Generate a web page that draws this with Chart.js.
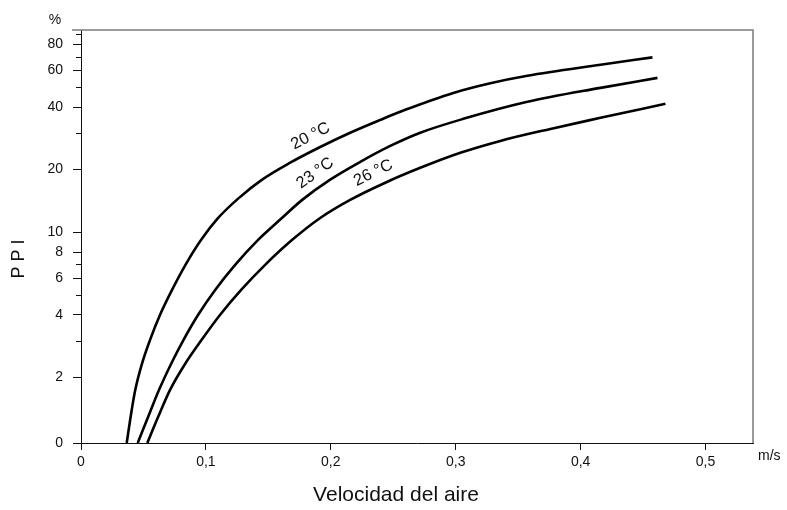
<!DOCTYPE html>
<html>
<head>
<meta charset="utf-8">
<script src="https://cdn.jsdelivr.net/npm/chart.js@4.4.1/dist/chart.umd.min.js"></script>
<style>
  html, body { margin: 0; padding: 0; background: #fff; }
  #grafico { display: block; }
</style>
</head>
<body>
<canvas id="grafico" width="787" height="510"></canvas>
<script>
// velocidad del aire (m/s) y PPI (%) para cada temperatura
const vel20 = [0.0366, 0.0397, 0.0433, 0.0485, 0.0553, 0.0633, 0.0729, 0.0841, 0.0962, 0.1098,
               0.1258, 0.1450, 0.1675, 0.1915, 0.2155, 0.2396, 0.2596, 0.2981, 0.3277, 0.3574,
               0.4159, 0.4575];
const ppi20 = [0, 0.79, 1.59, 2.29, 3.03, 4.0, 5.27, 7.03, 9.18, 11.7,
               14.5, 17.9, 21.6, 25.7, 30.1, 34.7, 38.8, 46.8, 52.1, 56.6,
               63.9, 69.4];

const vel23 = [0.0454, 0.0537, 0.0625, 0.0721, 0.0821, 0.0938, 0.1074, 0.1234, 0.1418, 0.1595,
               0.1771, 0.1995, 0.2236, 0.2476, 0.2716, 0.3061, 0.3574, 0.4159, 0.4615];
const ppi23 = [0, 0.79, 1.62, 2.32, 3.03, 4.0, 5.27, 6.96, 9.18, 11.5,
               14.3, 17.9, 21.8, 26.0, 30.1, 35.1, 42.4, 49.5, 55.3];

const vel26 = [0.0531, 0.0617, 0.0713, 0.0833, 0.0966, 0.1114, 0.1282, 0.1474, 0.1691, 0.1915,
               0.2155, 0.2436, 0.2716, 0.3037, 0.3357, 0.3758, 0.4159, 0.4679];
const ppi26 = [0, 0.79, 1.62, 2.32, 3.03, 4.0, 5.27, 6.96, 9.18, 11.7,
               14.3, 17.3, 20.4, 24.1, 27.5, 31.4, 35.5, 41.5];

const temperaturas = ['20 °C', '23 °C', '26 °C'];

const xTicks = [0, 0.1, 0.2, 0.3, 0.4, 0.5];
const yTicks = [0, 2, 4, 6, 8, 10, 20, 40, 60, 80];
const yMinor = [3, 5, 7, 30, 50, 70, 90];

const FUENTE = "'Liberation Sans', Arial, Helvetica, sans-serif";
const TINTA = '#111';

// escala del eje PPI: lineal hasta 2 %, logarítmica (base 2) por encima
const K = 1.05;
const fwd = v => v < 2 ? K * v / 2 : K + Math.log2(v / 2);
const inv = f => f < K ? 2 * f / K : 2 * Math.pow(2, f - K);

const LinearScale = Chart.LinearScale || Chart.registry.getScale('linear');
class PpiScale extends LinearScale {
  buildTicks() {
    return [...yTicks, ...yMinor].sort((a, b) => a - b).map(v => ({ value: v }));
  }
  configure() {
    super.configure();
    this._f0 = fwd(this.min);
    this._f1 = fwd(this.max);
  }
  getPixelForValue(v) {
    if (v === null || v === undefined) return NaN;
    return this.getPixelForDecimal((fwd(v) - this._f0) / (this._f1 - this._f0));
  }
  getValueForPixel(p) {
    return inv(this._f0 + this.getDecimalForPixel(p) * (this._f1 - this._f0));
  }
}
PpiScale.id = 'ppi';
Chart.register(PpiScale);

const serie = (vel, ppi) => vel.map((v, i) => ({ x: v, y: ppi[i] }));

// rótulos de temperatura sobre cada curva (velocidad donde se apoyan)
const rotulos = [
  { texto: temperaturas[0], vel: 0.189 },
  { texto: temperaturas[1], vel: 0.194 },
  { texto: temperaturas[2], vel: 0.239 }
];

function puntoEnCurva(meta, px) {
  const pts = meta.data;
  for (let i = 1; i < pts.length; i++) {
    if (pts[i].x >= px) {
      const a = pts[i - 1], b = pts[i];
      const t = (px - a.x) / (b.x - a.x);
      return { x: px, y: a.y + t * (b.y - a.y), ang: Math.atan2(b.y - a.y, b.x - a.x) };
    }
  }
  return null;
}

const decoracion = {
  id: 'decoracion',
  afterDraw(chart) {
    const { ctx, chartArea: a, scales: { x, y } } = chart;
    ctx.save();

    // marco superior y derecho
    ctx.strokeStyle = '#7a7a7a';
    ctx.lineWidth = 1.5;
    ctx.beginPath();
    ctx.moveTo(a.left - 9, a.top);
    ctx.lineTo(a.right, a.top);
    ctx.lineTo(a.right, a.bottom);
    ctx.stroke();

    // marcas menores del eje y
    ctx.strokeStyle = '#111';
    ctx.lineWidth = 1;
    yMinor.forEach(v => {
      const py = Math.round(y.getPixelForValue(v)) + 0.5;
      ctx.beginPath();
      ctx.moveTo(a.left - 5, py);
      ctx.lineTo(a.left, py);
      ctx.stroke();
    });

    ctx.fillStyle = TINTA;
    ctx.textBaseline = 'middle';

    // unidades
    ctx.font = `14px ${FUENTE}`;
    ctx.textAlign = 'center';
    ctx.fillText('%', a.left - 26, 20);
    ctx.textAlign = 'left';
    ctx.fillText('m/s', a.right + 5, a.bottom + 13);

    // títulos de ejes
    ctx.font = `21px ${FUENTE}`;
    ctx.textAlign = 'center';
    ctx.fillText('Velocidad del aire', 396, a.bottom + 52);
    ctx.save();
    ctx.translate(19, 259);
    ctx.rotate(-Math.PI / 2);
    ctx.font = `18px ${FUENTE}`;
    ctx.fillText('P P I', 0, 0);
    ctx.restore();

    // rótulos de las curvas
    ctx.font = `16.5px ${FUENTE}`;
    rotulos.forEach((r, i) => {
      const p = puntoEnCurva(chart.getDatasetMeta(i), x.getPixelForValue(r.vel));
      if (!p) return;
      const d = 14;
      ctx.save();
      ctx.translate(p.x + Math.sin(p.ang) * d, p.y - Math.cos(p.ang) * d);
      ctx.rotate(p.ang);
      ctx.fillText(r.texto, 0, 0);
      ctx.restore();
    });

    ctx.restore();
  }
};

const estiloCurva = {
  borderColor: '#000',
  borderWidth: 2.6,
  pointRadius: 0,
  fill: false,
  cubicInterpolationMode: 'monotone'
};

new Chart(document.getElementById('grafico'), {
  type: 'line',
  data: {
    datasets: [
      { label: temperaturas[0], data: serie(vel20, ppi20), ...estiloCurva },
      { label: temperaturas[1], data: serie(vel23, ppi23), ...estiloCurva },
      { label: temperaturas[2], data: serie(vel26, ppi26), ...estiloCurva }
    ]
  },
  options: {
    responsive: false,
    animation: false,
    devicePixelRatio: 1,
    layout: { padding: { left: 0, top: 30, right: 34, bottom: 0 } },
    plugins: { legend: { display: false }, tooltip: { enabled: false } },
    scales: {
      x: {
        type: 'linear',
        min: 0,
        max: 0.538,
        afterBuildTicks: s => { s.ticks = xTicks.map(v => ({ value: v })); },
        afterFit: s => { s.height = 67; },
        border: { color: '#111', width: 1 },
        grid: { drawOnChartArea: false, tickLength: 7, tickColor: '#111' },
        ticks: {
          padding: 4,
          color: TINTA,
          font: { family: FUENTE, size: 14 },
          maxRotation: 0,
          callback: v => v === 0 ? '0' : v.toFixed(1).replace('.', ',')
        }
      },
      y: {
        type: 'ppi',
        min: 0,
        max: 94,
        afterFit: s => { s.width = 81; },
        border: { color: '#111', width: 1 },
        grid: {
          drawOnChartArea: false,
          tickLength: 8,
          tickColor: c => yMinor.includes(c.tick && c.tick.value) ? 'rgba(0,0,0,0)' : '#111'
        },
        ticks: {
          autoSkip: false,
          padding: 10,
          color: TINTA,
          font: { family: FUENTE, size: 14 },
          callback: v => yTicks.includes(v) ? String(v) : ''
        }
      }
    }
  },
  plugins: [decoracion]
});
</script>
</body>
</html>
